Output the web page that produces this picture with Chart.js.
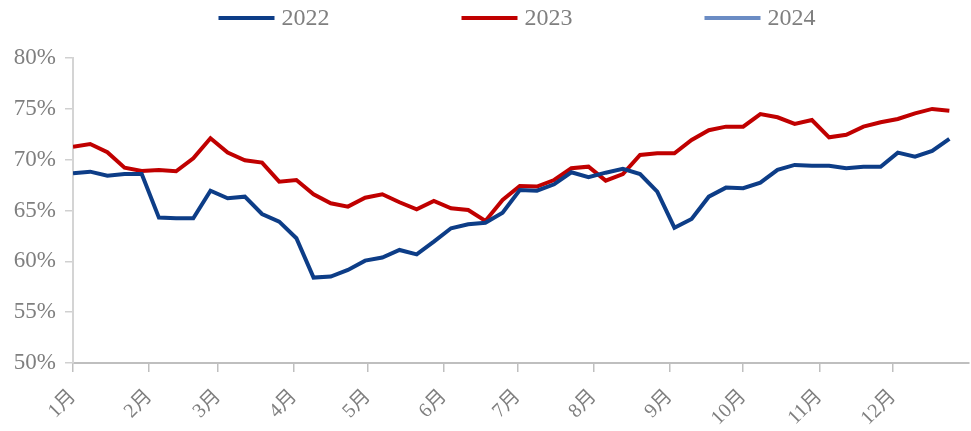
<!DOCTYPE html>
<html>
<head>
<meta charset="utf-8">
<script src="https://cdn.jsdelivr.net/npm/chart.js@4/dist/chart.umd.min.js"></script>
<style>
  html, body { margin: 0; padding: 0; background: #ffffff; }
  #wrap { width: 971px; height: 431px; position: relative; }
</style>
</head>
<body>
<div id="wrap"><canvas id="c" width="971" height="431"></canvas></div>
<script>
// Month labels and the first day (day of year) of each month
const months = ['1月', '2月', '3月', '4月', '5月', '6月', '7月', '8月', '9月', '10月', '11月', '12月'];
const monthStartDays = [0, 31, 59, 90, 120, 151, 181, 212, 243, 273, 304, 334];

// Weekly readings, in percent; week n falls on day n*7
const seriesNames = ['2022', '2023', '2024'];
const values2022 = [
  68.66, 68.82, 68.43, 68.59, 68.59, 64.30, 64.24, 64.24, 66.95, 66.20,
  66.36, 64.66, 63.90, 62.27, 58.40, 58.50, 59.15, 60.07, 60.37, 61.12,
  60.69, 61.94, 63.25, 63.64, 63.80, 64.79, 67.02, 66.95, 67.58, 68.76,
  68.27, 68.72, 69.09, 68.59, 66.85, 63.31, 64.17, 66.36, 67.25, 67.19,
  67.74, 68.99, 69.48, 69.41, 69.41, 69.15, 69.31, 69.31, 70.69, 70.30,
  70.86, 72.04
];
const values2023 = [
  71.28, 71.54, 70.73, 69.21, 68.89, 68.99, 68.86, 70.14, 72.10, 70.70,
  69.94, 69.71, 67.84, 68.00, 66.60, 65.71, 65.38, 66.26, 66.60, 65.81,
  65.12, 65.94, 65.22, 65.05, 63.97, 66.04, 67.41, 67.35, 68.00, 69.15,
  69.31, 67.94, 68.59, 70.46, 70.63, 70.63, 71.94, 72.90, 73.25, 73.25,
  74.49, 74.17, 73.51, 73.90, 72.20, 72.45, 73.25, 73.68, 74.00, 74.56,
  74.99, 74.82
];
const values2024 = [];

const yTicks = [50, 55, 60, 65, 70, 75, 80];

const colors = ['#0d3d87', '#c00000', '#6b8cc4'];
const textColor = '#7f7f7f';
const serif = "'Liberation Serif', 'Times New Roman', 'Noto Sans CJK SC', serif";

function toPoints(arr) {
  return arr.map((v, i) => ({ x: i * 7, y: v }));
}

// Legend drawn centred above the plot area, with wide gaps between items
const topLegend = {
  id: 'topLegend',
  afterDraw(chart) {
    const ctx = chart.ctx;
    const area = chart.chartArea;
    const lineLen = 56, textGap = 7, itemGap = 132, fontSize = 24;
    ctx.save();
    ctx.font = fontSize + 'px ' + serif;
    const items = chart.data.datasets.map(ds => ({
      label: ds.label,
      color: ds.borderColor,
      w: lineLen + textGap + ctx.measureText(ds.label).width
    }));
    const total = items.reduce((s, it) => s + it.w, 0) + itemGap * (items.length - 1);
    let x = (area.left + area.right) / 2 - total / 2 - 4;
    const y = 18;
    items.forEach(it => {
      ctx.strokeStyle = it.color;
      ctx.lineWidth = 4;
      ctx.beginPath();
      ctx.moveTo(x, y);
      ctx.lineTo(x + lineLen, y);
      ctx.stroke();
      ctx.fillStyle = textColor;
      ctx.textBaseline = 'middle';
      ctx.textAlign = 'left';
      ctx.fillText(it.label, x + lineLen + textGap, y + 1);
      x += it.w + itemGap;
    });
    ctx.restore();
  }
};

new Chart(document.getElementById('c'), {
  type: 'line',
  data: {
    datasets: [
      { label: seriesNames[0], data: toPoints(values2022) },
      { label: seriesNames[1], data: toPoints(values2023) },
      { label: seriesNames[2], data: toPoints(values2024) }
    ].map((ds, i) => Object.assign(ds, {
      borderColor: colors[i],
      backgroundColor: colors[i],
      borderWidth: 4,
      pointRadius: 0,
      tension: 0,
      fill: false
    }))
  },
  options: {
    responsive: false,
    animation: false,
    layout: { padding: { top: 58, right: 2, left: 0, bottom: 0 } },
    plugins: {
      legend: { display: false },
      tooltip: { enabled: false }
    },
    scales: {
      x: {
        type: 'linear',
        min: 0,
        max: 365,
        afterBuildTicks(scale) {
          scale.ticks = monthStartDays.map(v => ({ value: v }));
        },
        afterFit(scale) { scale.height = 68; },
        ticks: {
          autoSkip: false,
          minRotation: 45,
          maxRotation: 45,
          padding: 13,
          color: textColor,
          font: { family: serif, size: 20 },
          callback: (v, i) => months[i]
        },
        grid: {
          display: true,
          drawOnChartArea: false,
          tickLength: 9,
          color: '#bfbfbf',
          lineWidth: 1.5
        },
        border: { display: true, color: '#bfbfbf', width: 2 }
      },
      y: {
        min: 50,
        max: 80,
        afterBuildTicks(scale) {
          scale.ticks = yTicks.map(v => ({ value: v }));
        },
        afterFit(scale) { scale.width = 73; },
        ticks: {
          padding: 9,
          color: textColor,
          font: { family: serif, size: 23 },
          callback: v => v + '%'
        },
        grid: {
          display: true,
          drawOnChartArea: false,
          tickLength: 8,
          color: '#d0d0d0',
          lineWidth: 1.5
        },
        border: { display: true, color: '#d4d4d4', width: 2 }
      }
    }
  },
  plugins: [topLegend]
});
</script>
</body>
</html>
